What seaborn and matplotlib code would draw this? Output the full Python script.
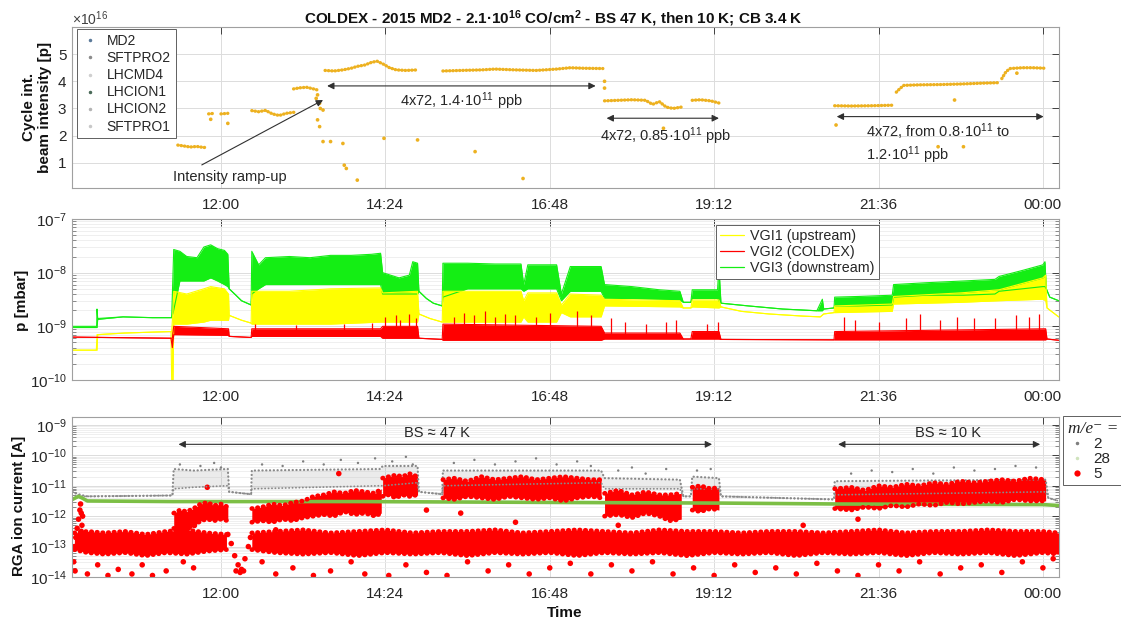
import matplotlib
matplotlib.use("Agg")
import matplotlib.pyplot as plt
import seaborn as sns
import numpy as np
from matplotlib.lines import Line2D
from matplotlib.font_manager import FontProperties
from matplotlib.ticker import LogLocator, NullFormatter

# ---------------------------------------------------------------- axes / ticks
TICK_HOURS = [12.0, 14.4, 16.8, 19.2, 21.6, 24.0]
TICK_LABELS = ["12:00", "14:24", "16:48", "19:12", "21:36", "00:00"]
XLIM = (9.825, 24.235)

# ---------------------------------------------------------------- top panel: cycle intensity (units of 1e16 p)
int_seg_t = [
    [11.37, 11.45, 11.55, 11.65, 11.75, 11.80],
    [11.82, 11.90],
    [12.0, 12.10],
    [12.45, 12.55, 12.65, 12.75, 12.85, 12.95, 13.07],
    [13.06, 13.15, 13.25, 13.35, 13.41],
    [13.52, 13.65, 13.78, 13.9, 13.99, 14.1, 14.2, 14.28, 14.38, 14.46, 14.56, 14.7, 14.87],
    [15.24, 15.5, 15.8, 16.0, 16.3, 16.6, 16.9, 17.1, 17.3, 17.575],
    [17.6, 17.8, 18.0, 18.2, 18.3, 18.4, 18.5, 18.6, 18.72],
    [18.88, 19.0, 19.15, 19.27],
    [20.96, 21.2, 21.5, 21.82],
    [21.86, 21.92, 21.97, 22.2, 22.5, 22.8, 23.1, 23.36],
    [23.40, 23.46, 23.52, 23.7, 23.85, 24.04],
]
int_seg_v = [
    [1.65, 1.62, 1.58, 1.60, 1.56, 1.58],
    [2.80, 2.82],
    [2.80, 2.82],
    [2.92, 2.88, 2.93, 2.80, 2.74, 2.82, 2.86],
    [3.72, 3.76, 3.78, 3.72, 3.68],
    [4.40, 4.38, 4.42, 4.48, 4.55, 4.60, 4.70, 4.74, 4.62, 4.50, 4.42, 4.40, 4.42],
    [4.38, 4.40, 4.42, 4.45, 4.42, 4.40, 4.45, 4.50, 4.48, 4.47],
    [3.28, 3.30, 3.32, 3.30, 3.15, 3.25, 3.05, 3.00, 3.05],
    [3.30, 3.32, 3.28, 3.20],
    [3.10, 3.09, 3.10, 3.12],
    [3.60, 3.75, 3.85, 3.87, 3.88, 3.90, 3.93, 3.95],
    [4.10, 4.35, 4.47, 4.50, 4.50, 4.48],
]
int_out_t = [11.85, 12.10, 13.39, 13.41, 13.44, 13.45, 13.49, 13.41, 13.44, 13.49, 13.60, 13.78, 13.80,
             13.83, 13.99, 14.38, 14.87, 15.71, 16.41, 17.60, 17.60, 18.46, 20.98, 22.71, 23.62, 22.47, 22.84]
int_out_v = [2.60, 2.45, 3.37, 3.50, 3.19, 3.00, 2.94, 2.58, 2.33, 1.78, 1.78, 1.71, 0.91,
             0.79, 0.36, 1.90, 1.84, 1.41, 0.42, 4.00, 3.75, 2.27, 2.39, 3.31, 4.30, 1.59, 1.59]
cycle_names = ["MD2", "SFTPRO2", "LHCMD4", "LHCION1", "LHCION2", "SFTPRO1"]

# ---------------------------------------------------------------- middle panel: pressures [mbar]
vgi3_t = [9.83, 10.185, 10.19, 10.20, 10.57, 11.0, 11.28, 11.31, 11.4, 11.5, 11.65, 11.75, 11.85, 11.95, 12.05, 12.10,
          12.12, 12.2, 12.3, 12.44, 12.45, 12.55, 12.65, 13.0, 13.3, 13.6, 13.9, 14.2, 14.33, 14.36, 14.6, 14.75,
          14.80, 14.87, 14.89, 15.0, 15.1, 15.23, 15.24, 15.6, 16.0, 16.38, 16.42, 16.48, 16.9, 16.97, 17.1,
          17.55, 17.6, 18.0, 18.4, 18.7, 18.75, 18.86, 18.88, 19.25, 19.27, 19.30, 19.7, 20.2, 20.7, 20.78,
          20.80, 20.95, 20.96, 21.3, 21.8, 21.82, 22.3, 22.84, 23.3, 23.36, 23.7, 24.0, 24.03, 24.05, 24.1, 24.23]
vgi3_lo = [9.5e-10, 9.5e-10, 9.5e-10, 1.35e-9, 1.5e-9, 1.45e-9, 1.45e-9, 2e-9, 7e-9, 7e-9, 7e-9, 7e-9, 8e-9, 7e-9, 6e-9, 5.5e-9,
           5e-9, 4e-9, 3e-9, 2.5e-9, 4e-9, 5e-9, 6e-9, 6e-9, 6e-9, 6e-9, 6e-9, 6e-9, 6e-9, 4e-9, 4e-9, 4e-9,
           4e-9, 4e-9, 4.5e-9, 3.3e-9, 2.7e-9, 2.4e-9, 3.5e-9, 5e-9, 5e-9, 5e-9, 4.5e-9, 5e-9, 5e-9, 3e-9, 4.5e-9,
           4.5e-9, 3.3e-9, 3.3e-9, 3.2e-9, 3.1e-9, 2.8e-9, 2.8e-9, 3.3e-9, 3.3e-9, 3e-9, 2.7e-9, 2.4e-9, 2.1e-9, 1.95e-9, 1.95e-9,
           2.1e-9, 2.2e-9, 2.4e-9, 2.4e-9, 2.5e-9, 3.5e-9, 3.8e-9, 3.8e-9, 4e-9, 4.5e-9, 5e-9, 5.5e-9, 5.5e-9, 5e-9, 3.5e-9, 3e-9]
vgi3_hi = [1.0e-9, 1.0e-9, 2.1e-9, 1.4e-9, 1.5e-9, 1.45e-9, 1.45e-9, 2.7e-8, 2.5e-8, 2.0e-8, 1.9e-8, 3.0e-8, 3.3e-8, 2.8e-8, 2.6e-8, 2.2e-8,
           5e-9, 4e-9, 3e-9, 2.5e-9, 2.5e-8, 1.4e-8, 1.9e-8, 2.0e-8, 1.9e-8, 2.1e-8, 2.1e-8, 2.2e-8, 2.3e-8, 1.0e-8, 8e-9, 9e-9,
           1.6e-8, 1.5e-8, 4.5e-9, 3.3e-9, 2.7e-9, 2.4e-9, 1.5e-8, 1.5e-8, 1.45e-8, 1.45e-8, 6e-9, 1.4e-8, 1.4e-8, 4e-9, 1.3e-8,
           1.3e-8, 6e-9, 5.5e-9, 4.8e-9, 4.5e-9, 2.8e-9, 2.8e-9, 4.8e-9, 4.8e-9, 1.3e-8, 2.7e-9, 2.4e-9, 2.1e-9, 1.95e-9, 3.2e-9,
           2.1e-9, 2.2e-9, 3.5e-9, 3.6e-9, 3.8e-9, 6e-9, 6.5e-9, 7e-9, 7.5e-9, 8.5e-9, 1.1e-8, 1.4e-8, 1.6e-8, 5e-9, 3.5e-9, 3e-9]

vgi1_t = [9.83, 10.18, 10.19, 10.20, 10.6, 11.0, 11.27, 11.28, 11.30, 11.31, 11.5, 11.75, 11.85, 12.05, 12.11,
          12.12, 12.3, 12.44, 12.45, 13.0, 13.6, 14.33, 14.36, 14.87, 14.89, 15.05, 15.23, 15.24, 16.38, 16.42,
          16.48, 16.9, 16.97, 17.1, 17.55, 17.6, 18.7, 18.75, 18.86, 18.88, 19.27, 19.30, 19.6, 20.0, 20.5,
          20.75, 20.80, 20.95, 20.96, 21.8, 21.82, 22.8, 23.36, 24.0, 24.04, 24.06, 24.23]
vgi1_lo = [3.6e-10, 3.6e-10, 3.6e-10, 7e-10, 7.5e-10, 7.8e-10, 8e-10, 1e-10, 1e-10, 1.1e-9, 1.1e-9, 1.2e-9, 1.3e-9, 1.3e-9, 1.3e-9,
           1.6e-9, 1.3e-9, 1.15e-9, 1.1e-9, 1.1e-9, 1.1e-9, 1.2e-9, 1.2e-9, 1.2e-9, 1.7e-9, 1.4e-9, 1.2e-9, 1.2e-9, 1.2e-9, 1.5e-9,
           1.2e-9, 1.2e-9, 1.8e-9, 1.5e-9, 1.5e-9, 2.4e-9, 2.3e-9, 2.2e-9, 2.2e-9, 2.3e-9, 2.2e-9, 2.3e-9, 1.9e-9, 1.7e-9, 1.55e-9,
           1.5e-9, 1.7e-9, 1.8e-9, 1.8e-9, 1.9e-9, 2.6e-9, 2.8e-9, 3e-9, 3.2e-9, 3e-9, 2.2e-9, 1.5e-9]
vgi1_hi = [3.6e-10, 3.6e-10, 7e-10, 7e-10, 7.5e-10, 7.8e-10, 8e-10, 8e-10, 2e-9, 4.5e-9, 4e-9, 5e-9, 5.5e-9, 5e-9, 4e-9,
           1.6e-9, 1.3e-9, 1.15e-9, 4.5e-9, 4.5e-9, 5e-9, 5.2e-9, 4.2e-9, 4.5e-9, 1.7e-9, 1.4e-9, 1.2e-9, 4.5e-9, 4.5e-9, 3e-9,
           4.2e-9, 4.2e-9, 2.5e-9, 4e-9, 3.8e-9, 3.2e-9, 3.0e-9, 2.2e-9, 2.2e-9, 3.1e-9, 3.1e-9, 2.3e-9, 1.9e-9, 1.7e-9, 1.55e-9,
           1.5e-9, 1.7e-9, 1.8e-9, 2.4e-9, 2.6e-9, 3.6e-9, 4.2e-9, 4.8e-9, 8e-9, 9e-9, 2.2e-9, 1.5e-9]

vgi2_t = [9.83, 11.27, 11.29, 11.31, 12.11, 12.12, 12.44, 12.45, 14.33, 14.36, 14.87, 14.89, 15.23, 15.24, 17.55,
          17.6, 18.7, 18.75, 18.86, 18.88, 19.27, 19.30, 20.95, 20.96, 24.04, 24.06, 24.23]
vgi2_lo = [6.3e-10, 6.0e-10, 4e-10, 7e-10, 6.8e-10, 6.5e-10, 6.2e-10, 6.5e-10, 6.5e-10, 6e-10, 6e-10, 6e-10, 5.7e-10, 5.5e-10, 5.5e-10,
           5.8e-10, 5.8e-10, 5.8e-10, 5.8e-10, 5.8e-10, 5.8e-10, 5.7e-10, 5.6e-10, 5.6e-10, 5.6e-10, 5.8e-10, 5.5e-10]
vgi2_hi = [6.3e-10, 6.0e-10, 6e-10, 1.0e-9, 9e-10, 6.5e-10, 6.2e-10, 9e-10, 9e-10, 1.0e-9, 1.0e-9, 6e-10, 5.7e-10, 1.1e-9, 1.0e-9,
           7.5e-10, 7.5e-10, 5.8e-10, 5.8e-10, 8e-10, 8e-10, 5.7e-10, 5.6e-10, 8e-10, 9e-10, 5.8e-10, 5.5e-10]
vgi2_spike_t = [12.5, 13.1, 13.8, 14.2, 14.4, 14.55, 14.62, 14.75, 14.85, 15.4, 15.55, 15.7, 15.85, 16.0, 16.15,
                16.3, 16.6, 16.8, 17.2, 17.4, 17.7, 17.9, 18.2, 18.5, 18.65, 19.1, 19.25, 21.1, 21.25, 21.6,
                22.0, 22.2, 22.5, 22.75, 23.0, 23.3, 23.6, 23.8, 23.95]
vgi2_spike_top = [1.1e-9, 1.05e-9, 1.1e-9, 1.15e-9, 1.5e-9, 1.6e-9, 1.3e-9, 1.7e-9, 1.4e-9, 1.5e-9, 1.8e-9, 1.6e-9, 1.9e-9, 1.5e-9, 1.7e-9,
                  1.6e-9, 1.5e-9, 1.8e-9, 1.9e-9, 1.6e-9, 1.4e-9, 1.2e-9, 1.1e-9, 1.2e-9, 1.3e-9, 1.1e-9, 1.2e-9, 1.5e-9, 1.3e-9, 1.2e-9,
                  1.4e-9, 1.7e-9, 1.3e-9, 1.5e-9, 1.4e-9, 1.4e-9, 1.6e-9, 1.5e-9, 1.7e-9]

# ---------------------------------------------------------------- bottom panel: RGA currents (log10 of A)
m2_t = [9.83, 9.95, 10.05, 11.29, 11.31, 11.6, 12.10, 12.12, 12.44, 12.45, 14.33, 14.36, 14.87, 14.89, 15.23, 15.24,
        17.55, 17.6, 18.7, 18.75, 18.86, 18.88, 19.27, 19.30, 20.95, 20.96, 24.04, 24.08, 24.23]
m2_lo = [-11.2, -11.35, -11.35, -11.32, -11.1, -11.05, -11.0, -11.2, -11.28, -11.1, -11.0, -11.0, -10.9, -11.2, -11.28, -11.0,
         -10.9, -11.1, -11.1, -11.35, -11.35, -11.1, -11.1, -11.35, -11.45, -11.3, -11.2, -11.4, -11.5]
m2_hi = [-11.2, -11.3, -11.35, -11.32, -10.45, -10.5, -10.45, -11.2, -11.28, -10.5, -10.45, -10.35, -10.35, -11.2, -11.28, -10.5,
         -10.5, -10.75, -10.8, -11.35, -11.35, -10.7, -10.75, -11.35, -11.45, -10.85, -10.8, -11.4, -11.5]
m2_out_t = [11.4, 11.7, 11.9, 12.0, 12.6, 12.9, 13.2, 13.5, 13.75, 14.0, 14.25, 14.5, 14.7, 14.8, 15.4, 15.7, 16.0, 16.3,
            16.6, 16.9, 17.2, 17.4, 17.8, 18.0, 18.2, 18.5, 18.95, 19.15, 21.2, 21.5, 21.8, 22.1, 22.4, 22.7, 23.0,
            23.3, 23.6, 23.9]
m2_out_e = [-10.3, -10.35, -10.25, -10.4, -10.3, -10.35, -10.2, -10.3, -10.15, -10.25, -10.1, -10.2, -10.05, -10.3, -10.25,
            -10.15, -10.3, -10.2, -10.1, -10.3, -10.2, -10.35, -10.5, -10.4, -10.6, -10.45, -10.5, -10.45, -10.6, -10.5,
            -10.55, -10.45, -10.6, -10.4, -10.5, -10.45, -10.35, -10.4]

m28_t = [9.83, 9.92, 9.97, 10.05, 11.3, 14.0, 17.0, 19.3, 21.0, 24.0, 24.23]
m28_e = [-11.45, -11.35, -11.4, -11.5, -11.52, -11.52, -11.55, -11.57, -11.6, -11.62, -11.65]

m5_cloud_t = [
    [11.31, 11.4, 11.5, 11.6, 11.7, 11.8, 11.9, 12.0, 12.1],
    [12.45, 12.6, 12.75, 12.9, 13.05, 13.2, 13.35, 13.5, 13.65, 13.8, 13.95, 14.1, 14.25, 14.34],
    [14.36, 14.45, 14.55, 14.65, 14.75, 14.87],
    [15.24, 15.4, 15.6, 15.8, 16.0, 16.2, 16.4, 16.6, 16.8, 17.0, 17.2, 17.4, 17.55],
    [17.6, 17.8, 18.0, 18.2, 18.4, 18.55, 18.72],
    [18.88, 19.0, 19.15, 19.27],
    [20.96, 21.2, 21.4, 21.6, 21.8, 22.0, 22.2, 22.4, 22.6, 22.8, 23.0, 23.2, 23.4, 23.6, 23.8, 24.04],
]
m5_cloud_lo = [
    [-12.4, -12.5, -12.4, -12.35, -12.15, -12.1, -12.15, -12.1, -12.15],
    [-12.2, -12.15, -12.2, -12.1, -12.15, -12.05, -12.0, -11.95, -12.0, -11.85, -11.95, -11.9, -12.0, -11.9],
    [-11.35, -11.3, -11.4, -11.3, -11.35, -11.3],
    [-11.4, -11.45, -11.35, -11.4, -11.45, -11.35, -11.4, -11.45, -11.4, -11.5, -11.4, -11.35, -11.4],
    [-12.0, -11.95, -12.05, -11.9, -12.0, -12.15, -12.1],
    [-11.8, -11.85, -11.75, -11.8],
    [-11.75, -11.8, -11.7, -11.75, -11.65, -11.7, -11.6, -11.65, -11.55, -11.6, -11.55, -11.5, -11.55, -11.45, -11.5, -11.5],
]
m5_cloud_hi = [
    [-11.9, -11.8, -11.85, -11.75, -11.6, -11.55, -11.65, -11.6, -11.7],
    [-11.75, -11.7, -11.6, -11.65, -11.55, -11.5, -11.35, -11.3, -11.2, -11.25, -11.15, -11.2, -11.25, -11.1],
    [-10.75, -10.7, -10.65, -10.7, -10.6, -10.7],
    [-10.8, -10.75, -10.85, -10.7, -10.8, -10.75, -10.7, -10.8, -10.75, -10.7, -10.75, -10.8, -10.8],
    [-11.25, -11.15, -11.3, -11.2, -11.3, -11.3, -11.25],
    [-11.05, -11.0, -11.1, -11.05],
    [-11.1, -11.05, -11.15, -11.0, -11.05, -10.95, -11.0, -10.9, -10.95, -10.85, -10.9, -10.85, -10.8, -10.85, -10.75, -10.8],
]
m5_floor_t = [
    [9.86, 10.05, 10.3, 10.6, 10.9, 11.2, 11.5, 11.8, 12.08],
    [12.45, 12.8, 13.2, 13.6, 14.0, 14.4, 14.8, 15.2, 15.6, 16.0, 16.4, 16.8, 17.2, 17.6, 18.0, 18.4, 18.8,
     19.2, 19.6, 20.0, 20.4, 20.8, 21.2, 21.6, 22.0, 22.4, 22.8, 23.2, 23.6, 24.0, 24.23],
]
m5_floor_lo = [
    [-13.1, -13.2, -13.25, -13.2, -13.3, -13.2, -13.25, -13.15, -13.1],
    [-13.1, -13.2, -13.25, -13.2, -13.3, -13.2, -13.25, -13.2, -13.3, -13.2, -13.25, -13.2, -13.3, -13.2, -13.25,
     -13.2, -13.3, -13.2, -13.25, -13.2, -13.3, -13.2, -13.25, -13.2, -13.3, -13.2, -13.25, -13.2, -13.3, -13.2, -13.25],
]
m5_floor_hi = [
    [-12.55, -12.5, -12.55, -12.5, -12.6, -12.5, -12.45, -12.55, -12.6],
    [-12.55, -12.5, -12.45, -12.55, -12.5, -12.45, -12.55, -12.5, -12.5, -12.45, -12.55, -12.5, -12.45, -12.5, -12.55,
     -12.45, -12.5, -12.5, -12.55, -12.5, -12.5, -12.55, -12.5, -12.45, -12.55, -12.5, -12.5, -12.45, -12.5, -12.5, -12.55],
]
m5_out_t = [9.85, 9.86, 9.87, 9.88, 9.90, 9.92, 9.93, 9.94, 9.95, 9.96, 9.96, 9.97, 9.98, 9.99, 10.0,
            10.05, 10.2, 10.35, 10.5, 10.7, 10.85, 11.0, 11.2, 11.45, 11.6,
            12.1, 12.15, 12.2, 12.22, 12.25, 12.28, 12.3, 12.33, 12.35, 12.4, 12.43,
            12.6, 12.8, 13.05, 13.35, 13.6, 13.9, 14.1, 14.45, 14.7, 15.0, 15.3, 15.6, 15.9, 16.2, 16.5,
            16.8, 17.1, 17.4, 17.7, 18.0, 18.3, 18.6, 18.9, 19.2, 19.5, 19.8, 20.1, 20.4, 20.7, 21.0, 21.3,
            21.6, 21.9, 22.2, 22.5, 22.8, 23.1, 23.4, 23.7, 24.0, 24.15,
            11.45, 11.8, 12.8, 13.72, 15.0, 15.5, 16.3, 17.8, 20.5, 21.3]
m5_out_e = [-13.5, -13.0, -13.8, -12.7, -12.4, -12.1, -12.9, -11.8, -11.6, -11.9, -12.5, -12.3, -12.0, -12.6, -13.0,
            -13.9, -13.6, -13.95, -13.75, -13.9, -13.6, -13.95, -13.8, -13.5, -13.7,
            -12.6, -12.9, -13.3, -13.8, -13.6, -13.85, -13.75, -13.8, -13.4, -13.0, -12.7,
            -13.5, -13.9, -13.7, -13.95, -13.8, -13.5, -13.9, -13.95, -13.6, -13.85, -13.95, -13.5, -13.8, -13.6, -13.9,
            -13.7, -13.55, -13.9, -13.6, -13.8, -13.5, -13.9, -13.7, -13.95, -13.6, -13.85, -13.7, -13.9, -13.55, -13.8, -13.95,
            -13.6, -13.8, -13.5, -13.9, -13.7, -13.6, -13.85, -13.5, -13.7, -13.4,
            -12.4, -11.05, -12.45, -10.6, -11.8, -11.9, -12.2, -12.3, -12.3, -12.1]

# ---------------------------------------------------------------- style
sns.set_style("white")
plt.rcParams["font.family"] = ["Liberation Sans", "DejaVu Sans"]
plt.rcParams["mathtext.fontset"] = "custom"
plt.rcParams["mathtext.rm"] = "Liberation Sans"
plt.rcParams["mathtext.it"] = "Liberation Sans:italic"
plt.rcParams["mathtext.bf"] = "Liberation Sans:bold"

ORANGE = "#EDB120"
YEL, RED, GRN = "#ffff00", "#ff0000", "#14ee14"
GRAY_DOT, GRN_DOT = "#7f7f7f", "#7cbf45"
TXT = "#262626"
ARROW = "#303030"

fig = plt.figure(figsize=(11.21, 6.22), dpi=100)
L, W = 72 / 1121, 987 / 1121
ax1 = fig.add_axes([L, 1 - 188 / 622, W, 161 / 622])
ax2 = fig.add_axes([L, 1 - 380 / 622, W, 161 / 622])
ax3 = fig.add_axes([L, 1 - 577 / 622, W, 160 / 622])


def style(ax, log=False):
    ax.set_xlim(XLIM)
    ax.set_xticks(TICK_HOURS)
    ax.set_xticklabels(TICK_LABELS)
    for s in ax.spines.values():
        s.set_color("#a0a0a0")
        s.set_linewidth(0.8)
    ax.tick_params(which="major", direction="in", length=5, width=0.7, color="#404040",
                   top=True, right=True, labelsize=11, labelcolor=TXT, pad=4)
    ax.tick_params(axis="x", pad=7)
    if log:
        ax.tick_params(which="minor", axis="y", direction="in", length=3, width=0.5,
                       color="#606060", left=True, right=True)
        ax.grid(True, which="minor", axis="y", color="#ededed", lw=0.6)
    ax.grid(True, which="major", color="#dcdcdc", lw=0.7)
    ax.set_axisbelow(True)


# ---------------------------------------------------------------- top panel
for t, v in zip(int_seg_t, int_seg_v):
    sns.lineplot(x=t, y=v, ax=ax1, color=ORANGE, lw=2.4, estimator=None, sort=False,
                 linestyle=(0, (0.1, 0.9)), dash_capstyle="round")
sns.scatterplot(x=int_out_t, y=int_out_v, ax=ax1, color=ORANGE, s=7, edgecolor="none", legend=False)
ax1.set_ylim(0.07, 6.0)
ax1.set_yticks([1, 2, 3, 4, 5])
style(ax1)
leg_cols = ["#5b7a99", "#8c8c8c", "#cfcfcf", "#4a6a58", "#b4b4b4", "#c8c8c8"]
h1 = [Line2D([], [], ls="none", marker=".", markersize=3, color=c) for c in leg_cols]
lg1 = ax1.legend(h1, cycle_names, loc="upper left", bbox_to_anchor=(0.005, 0.985), fontsize=10,
                 frameon=True, fancybox=False, edgecolor="#606060", framealpha=1,
                 labelspacing=0.22, handlelength=1.2, handletextpad=0.6, borderpad=0.35, borderaxespad=0)
lg1.get_frame().set_linewidth(0.7)
for tx in lg1.get_texts():
    tx.set_color(TXT)
fig.text(72 / 1121, 1 - 19 / 622, "×10$^{16}$", fontsize=10, color="#404040", ha="left", va="center")

ax1.annotate("", xy=(13.49, 3.31), xytext=(11.72, 0.92),
             arrowprops=dict(arrowstyle="-|>", color=ARROW, lw=0.8, shrinkA=0, shrinkB=0, mutation_scale=10))
ax1.text(12.13, 0.48, "Intensity ramp-up", fontsize=10.5, color=TXT, ha="center", va="center")
for (x0, x1, y) in [(13.55, 17.47, 3.83), (17.63, 19.27, 2.64), (20.99, 24.01, 2.70)]:
    ax1.annotate("", xy=(x1, y), xytext=(x0, y),
                 arrowprops=dict(arrowstyle="<|-|>", color=ARROW, lw=0.8, shrinkA=0, shrinkB=0,
                                 mutation_scale=10))
ax1.text(15.51, 3.26, "4x72, 1.4·10$^{11}$ ppb", fontsize=10.5, color=TXT, ha="center", va="center")
ax1.text(18.49, 1.96, "4x72, 0.85·10$^{11}$ ppb", fontsize=10.5, color=TXT, ha="center", va="center")
ax1.text(21.41, 2.14, "4x72, from 0.8·10$^{11}$ to", fontsize=10.5, color=TXT, ha="left", va="center")
ax1.text(21.41, 1.28, "1.2·10$^{11}$ ppb", fontsize=10.5, color=TXT, ha="left", va="center")

# ---------------------------------------------------------------- middle panel
ax2.set_yscale("log")
for t, lo, hi, c in [(vgi3_t, vgi3_lo, vgi3_hi, GRN), (vgi1_t, vgi1_lo, vgi1_hi, YEL),
                     (vgi2_t, vgi2_lo, vgi2_hi, RED)]:
    ax2.fill_between(t, lo, hi, color=c, lw=0)
    sns.lineplot(x=t, y=lo, ax=ax2, color=c, lw=0.8, estimator=None, sort=False)
    sns.lineplot(x=t, y=hi, ax=ax2, color=c, lw=0.8, estimator=None, sort=False)
ax2.vlines(vgi2_spike_t, 7e-10, vgi2_spike_top, color=RED, lw=0.9)
ax2.set_ylim(1e-10, 1e-7)
ax2.yaxis.set_major_locator(LogLocator(base=10, numticks=10))
ax2.yaxis.set_minor_locator(LogLocator(base=10, subs=np.arange(2, 10) * 1.0, numticks=30))
ax2.yaxis.set_minor_formatter(NullFormatter())
style(ax2, log=True)
h2 = [Line2D([], [], color=c, lw=0.9) for c in (YEL, RED, GRN)]
lg2 = ax2.legend(h2, ["VGI1 (upstream)", "VGI2 (COLDEX)", "VGI3 (downstream)"], loc="upper left",
                 bbox_to_anchor=(0.652, 0.963), fontsize=10.3, frameon=True, fancybox=False,
                 edgecolor="#606060", framealpha=1, labelspacing=0.12, handlelength=1.7,
                 handletextpad=0.4, borderpad=0.3, borderaxespad=0)
lg2.get_frame().set_linewidth(0.7)
for tx in lg2.get_texts():
    tx.set_color(TXT)

# ---------------------------------------------------------------- bottom panel
ax3.set_yscale("log")
m2_lo_v = [10 ** e for e in m2_lo]
m2_hi_v = [10 ** e for e in m2_hi]
ax3.fill_between(m2_t, m2_lo_v, m2_hi_v, color="#b0b0b0", alpha=0.25, lw=0)
sns.lineplot(x=m2_t, y=m2_hi_v, ax=ax3, color="#8a8a8a", lw=1.6, estimator=None, sort=False,
             linestyle=(0, (0.1, 1.6)), dash_capstyle="round")
sns.lineplot(x=m2_t, y=m2_lo_v, ax=ax3, color="#8a8a8a", lw=1.3, estimator=None, sort=False,
             linestyle=(0, (0.1, 1.8)), dash_capstyle="round")
sns.scatterplot(x=m2_out_t, y=[10 ** e for e in m2_out_e], ax=ax3, color=GRAY_DOT, s=3, edgecolor="none", legend=False)
sns.lineplot(x=m28_t, y=[10 ** e for e in m28_e], ax=ax3, color=GRN_DOT, lw=2.6, estimator=None, sort=False)
for t, lo, hi in list(zip(m5_floor_t, m5_floor_lo, m5_floor_hi)) + list(zip(m5_cloud_t, m5_cloud_lo, m5_cloud_hi)):
    lo_v = [10 ** e for e in lo]
    hi_v = [10 ** e for e in hi]
    ax3.fill_between(t, lo_v, hi_v, color=RED, lw=0)
    for edge in (lo_v, hi_v):
        sns.lineplot(x=t, y=edge, ax=ax3, color=RED, lw=3.4, estimator=None, sort=False,
                     linestyle=(0, (0.1, 1.1)), dash_capstyle="round")
sns.scatterplot(x=m5_out_t, y=[10 ** e for e in m5_out_e], ax=ax3, color=RED, s=16, edgecolor="none", legend=False)
ax3.set_ylim(1e-14, 10 ** -8.74)
ax3.yaxis.set_major_locator(LogLocator(base=10, numticks=12))
ax3.yaxis.set_minor_locator(LogLocator(base=10, subs=np.arange(2, 10) * 1.0, numticks=60))
ax3.yaxis.set_minor_formatter(NullFormatter())
style(ax3, log=True)
for (x0, x1) in [(11.38, 19.17), (21.01, 23.96)]:
    ax3.annotate("", xy=(x1, 2.3e-10), xytext=(x0, 2.3e-10),
                 arrowprops=dict(arrowstyle="<|-|>", color=ARROW, lw=0.8, shrinkA=0, shrinkB=0,
                                 mutation_scale=10))
ax3.text(15.16, 5.3e-10, "BS ≈ 47 K", fontsize=10.5, color=TXT, ha="center", va="center")
ax3.text(22.61, 5.3e-10, "BS ≈ 10 K", fontsize=10.5, color=TXT, ha="center", va="center")
h3 = [Line2D([], [], ls="none", marker=".", markersize=3, color=GRAY_DOT),
      Line2D([], [], ls="none", marker=".", markersize=3, color="#cfe3bd"),
      Line2D([], [], ls="none", marker="o", markersize=4.5, color=RED, markeredgewidth=0)]
lg3 = ax3.legend(h3, ["2", "28", "5"], title="m/e⁻ =", loc="upper left", bbox_to_anchor=(1.004, 1.006),
                 fontsize=11, title_fontproperties=FontProperties(family=["Liberation Serif", "DejaVu Serif"],
                                                                 style="italic", size=12.5),
                 frameon=True, fancybox=False, edgecolor="#606060", framealpha=1, labelspacing=0.05,
                 handlelength=1.2, handletextpad=0.5, borderpad=0.3, borderaxespad=0)
lg3.get_frame().set_linewidth(0.7)
lg3._legend_box.align = "left"
for tx in lg3.get_texts():
    tx.set_color(TXT)

# ---------------------------------------------------------------- labels / title
fig.text(553 / 1121, 1 - 19 / 622,
         "COLDEX - 2015 MD2 - 2.1·10$^{\\mathbf{16}}$ CO/cm$^{\\mathbf{2}}$ - BS 47 K, then 10 K; CB 3.4 K",
         fontsize=11, fontweight="bold", ha="center", va="center", color="#111111")
fig.text(37 / 1121, 1 - 107 / 622, "Cycle int.\nbeam intensity [p]", rotation=90, fontsize=11,
         fontweight="bold", ha="center", va="center", multialignment="center", color="#111111", linespacing=1.1)
fig.text(22 / 1121, 1 - 300 / 622, "p [mbar]", rotation=90, fontsize=11, fontweight="bold",
         ha="center", va="center", color="#111111")
fig.text(19 / 1121, 1 - 506 / 622, "RGA ion current [A]", rotation=90, fontsize=10.8, fontweight="bold",
         ha="center", va="center", color="#111111")
fig.text(565 / 1121, 1 - 613 / 622, "Time", fontsize=11, fontweight="bold", ha="center", va="center",
         color="#111111")

fig.savefig("out.png", dpi=100)
